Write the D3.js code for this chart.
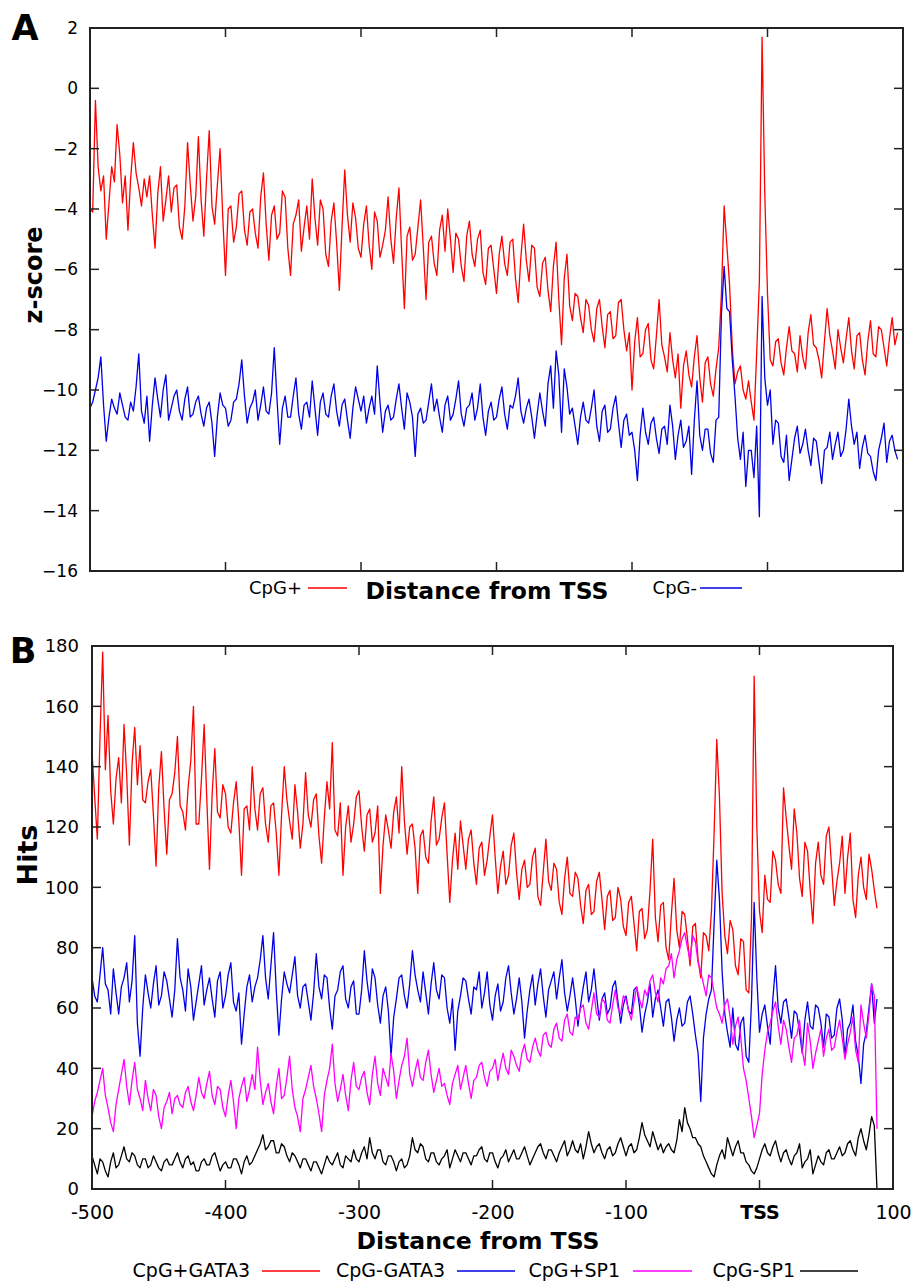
<!DOCTYPE html>
<html>
<head>
<meta charset="utf-8">
<script src="https://cdn.jsdelivr.net/npm/d3@7/dist/d3.min.js"></script>
<style>
html,body{margin:0;padding:0;background:#fff;}
svg{display:block;}
</style>
</head>
<body>
<svg id="chart" width="917" height="1284"></svg>
<script>
// ---------- DATA ----------
const startBp = -500;   // first position (bp from TSS)
const stepBp = 2;       // spacing between successive values

// Panel A : z-score
const zTicks = [2, 0, -2, -4, -6, -8, -10, -12, -14, -16];
const zCpgPlus = [
-4.0,-4.1,-0.4,-2.6,-3.4,-2.9,-5.0,-3.8,-2.6,-3.1,-1.2,-2.2,-3.8,-2.9,-4.7,-3.0,-1.8,-2.8,-3.3,-3.9,
-3.0,-3.6,-2.9,-4.2,-5.3,-3.5,-2.6,-4.4,-3.7,-2.9,-4.1,-3.3,-3.2,-4.6,-5.0,-3.9,-1.8,-3.2,-4.4,-3.6,
-1.6,-3.7,-4.9,-3.0,-1.4,-3.9,-4.5,-3.2,-2.0,-4.3,-6.2,-4.0,-3.9,-5.1,-4.6,-3.5,-3.4,-4.7,-5.2,-4.1,
-4.0,-4.8,-5.3,-3.6,-2.8,-4.5,-5.7,-4.2,-3.9,-5.0,-4.8,-3.4,-3.6,-5.3,-6.2,-4.5,-4.2,-3.7,-5.4,-4.6,
-3.9,-5.0,-3.0,-4.3,-5.2,-3.7,-4.0,-5.5,-5.9,-4.4,-3.8,-5.1,-6.7,-4.6,-2.7,-4.2,-5.1,-3.8,-4.3,-5.3,
-5.6,-4.5,-3.9,-5.2,-6.0,-4.1,-4.4,-5.6,-5.2,-4.7,-3.6,-5.0,-5.8,-4.3,-3.3,-5.4,-7.3,-4.9,-4.6,-5.7,
-5.5,-4.6,-3.7,-5.3,-7.0,-5.1,-4.9,-5.8,-6.2,-4.7,-4.2,-5.4,-4.0,-5.0,-6.1,-4.8,-5.0,-5.9,-6.4,-4.9,
-4.4,-5.5,-5.9,-5.0,-4.7,-6.1,-6.5,-5.3,-5.2,-6.0,-6.8,-5.5,-4.9,-5.8,-6.2,-5.1,-5.0,-6.3,-7.1,-5.6,
-4.5,-5.7,-6.4,-5.2,-5.3,-6.6,-6.9,-5.8,-5.6,-6.7,-7.4,-5.9,-5.1,-7.0,-8.5,-6.3,-5.5,-7.2,-7.7,-6.8,
-6.9,-7.6,-8.1,-7.0,-7.2,-8.0,-8.4,-7.3,-7.0,-7.9,-8.6,-7.5,-7.4,-8.3,-8.2,-7.1,-7.0,-8.0,-8.7,-8.1,
-10.0,-8.4,-7.6,-8.9,-8.8,-8.0,-7.8,-9.0,-9.3,-8.2,-7.0,-8.5,-8.9,-9.4,-8.1,-9.0,-9.6,-8.8,-10.6,-9.2,
-8.7,-9.5,-9.9,-8.9,-8.2,-9.6,-10.4,-9.1,-8.9,-9.8,-10.2,-9.3,-8.6,-6.8,-3.9,-5.2,-6.5,-8.6,-9.8,-9.4,
-9.2,-10.0,-10.3,-9.7,-10.4,-11.0,-8.8,-6.4,1.7,-3.5,-6.8,-9.0,-9.2,-8.4,-8.3,-9.1,-9.5,-8.6,-7.9,-8.7,
-8.8,-9.4,-8.2,-8.9,-9.3,-8.1,-7.5,-8.5,-8.6,-9.0,-9.6,-8.4,-7.3,-8.2,-8.7,-9.3,-8.0,-8.6,-9.1,-8.3,
-7.6,-8.7,-9.3,-8.2,-8.1,-9.0,-9.5,-8.4,-7.7,-8.8,-8.9,-7.9,-8.0,-8.6,-9.2,-8.3,-7.6,-8.5,-8.1
];
const zCpgMinus = [
-10.6,-10.4,-10.0,-9.6,-8.9,-10.5,-11.7,-10.9,-10.3,-10.6,-10.8,-10.1,-10.5,-10.9,-11.0,-10.4,-10.7,-9.9,-8.8,-10.7,
-11.1,-10.2,-11.7,-10.5,-9.6,-10.3,-10.9,-10.0,-9.5,-11.0,-10.6,-10.2,-10.0,-10.7,-11.0,-10.3,-9.9,-10.9,-10.8,-10.4,
-10.2,-10.8,-11.2,-10.6,-10.4,-11.1,-12.2,-10.9,-10.1,-10.5,-10.6,-11.2,-11.0,-10.4,-10.3,-9.8,-9.0,-10.2,-11.1,-10.6,
-10.4,-10.0,-11.0,-10.5,-9.9,-10.7,-10.8,-10.1,-8.6,-10.3,-11.8,-10.6,-10.2,-10.9,-10.9,-10.2,-9.6,-10.8,-11.3,-10.5,
-10.4,-10.9,-9.7,-10.6,-11.5,-10.4,-10.1,-10.8,-10.9,-10.2,-9.8,-10.7,-11.2,-10.5,-10.3,-11.0,-11.6,-10.6,-9.9,-10.3,
-10.7,-10.2,-11.1,-10.6,-10.2,-10.8,-9.2,-10.4,-11.4,-10.7,-10.5,-11.0,-10.9,-10.3,-9.8,-10.6,-11.3,-10.1,-10.4,-10.9,
-12.2,-10.8,-10.6,-11.1,-11.0,-10.4,-9.8,-10.7,-10.3,-10.9,-11.4,-10.5,-10.2,-11.0,-10.8,-10.3,-9.7,-10.8,-11.2,-10.6,
-10.5,-10.1,-11.0,-10.6,-9.8,-10.9,-11.5,-10.7,-10.4,-11.0,-10.9,-10.3,-9.9,-10.8,-11.3,-10.5,-10.6,-10.2,-9.6,-10.7,
-11.1,-10.6,-10.3,-10.9,-11.6,-10.8,-10.1,-10.7,-11.2,-9.8,-9.2,-10.6,-8.7,-9.5,-11.4,-9.3,-9.9,-10.8,-10.6,-11.2,
-11.8,-10.9,-10.4,-11.0,-11.1,-10.6,-10.0,-11.2,-11.7,-10.7,-10.5,-11.4,-11.3,-10.6,-10.2,-11.1,-11.9,-11.0,-10.8,-11.5,
-11.4,-12.0,-13.0,-11.5,-10.6,-11.4,-11.8,-11.1,-10.9,-11.6,-12.1,-11.3,-11.2,-11.8,-10.5,-11.2,-12.3,-11.5,-11.0,-11.9,
-11.7,-11.2,-12.8,-11.0,-9.7,-11.5,-12.0,-11.3,-11.3,-12.1,-12.4,-11.0,-10.9,-7.5,-5.9,-7.3,-7.4,-9.0,-10.2,-11.6,
-12.3,-11.4,-13.2,-12.0,-12.0,-12.9,-11.2,-14.2,-6.9,-9.6,-10.5,-10.0,-11.8,-11.0,-11.1,-12.2,-12.4,-11.5,-13.0,-12.3,
-11.6,-11.2,-12.1,-11.8,-11.3,-12.0,-12.5,-11.6,-11.7,-12.4,-13.1,-12.0,-11.9,-11.4,-12.3,-11.8,-11.4,-12.2,-12.0,-11.3,
-10.3,-11.2,-11.8,-11.4,-12.6,-11.9,-11.5,-12.1,-12.2,-12.7,-13.0,-12.0,-11.6,-11.1,-12.4,-11.7,-11.5,-12.0,-12.3
];

// Panel B : hits
const hitTicks = [0, 20, 40, 60, 80, 100, 120, 140, 160, 180];
const xTickValues = [-500, -400, -300, -200, -100, 0, 100];
const xTickLabels = ["-500", "-400", "-300", "-200", "-100", "TSS", "100"];

const hitsCpgPlusGATA3 = [
145,130,116,150,178,139,157,132,121,136,143,128,154,137,114,141,153,134,147,129,
128,135,139,124,107,133,145,126,111,129,131,138,150,127,125,119,133,142,160,121,
121,136,154,129,106,131,146,125,123,134,131,120,118,128,135,122,104,126,127,119,
140,126,119,131,133,121,115,127,128,118,104,124,140,129,122,116,134,125,113,121,
138,124,120,129,131,117,108,123,135,126,148,119,117,128,104,120,127,115,121,130,
132,120,112,124,126,115,118,127,98,114,124,119,113,125,130,118,140,122,111,120,
121,113,98,117,119,110,108,122,130,114,116,123,128,111,95,109,118,106,122,114,
106,116,119,108,101,113,115,104,109,117,124,110,98,107,112,101,104,114,118,105,
96,106,109,100,101,110,113,97,94,105,116,102,99,108,106,95,91,103,110,98,
97,105,103,94,88,99,101,91,92,102,105,96,86,97,99,89,90,100,96,87,
84,95,97,88,79,92,93,83,86,99,116,90,82,94,95,80,76,91,103,86,
80,92,91,83,74,87,88,76,70,85,84,79,92,118,149,130,98,84,78,89,
86,74,71,83,82,66,65,90,170,120,92,85,104,96,95,112,109,101,98,133,
123,114,106,126,118,103,97,115,112,99,88,108,115,104,101,117,120,107,94,102,
108,117,98,110,118,96,90,104,110,100,96,111,106,99,93
];
const hitsCpgMinusGATA3 = [
70,64,62,71,80,68,66,58,73,65,58,67,70,75,62,69,84,55,44,60,
71,65,60,68,74,61,64,72,69,63,57,66,83,70,66,59,73,67,56,62,
68,74,61,66,70,63,57,69,72,60,64,71,75,62,59,65,48,58,67,71,
62,67,70,76,84,70,63,74,85,66,51,63,72,68,65,71,77,64,60,67,
68,62,56,65,78,67,63,71,70,60,53,64,66,72,74,63,60,67,69,58,
58,66,79,69,62,73,70,61,55,64,67,59,44,57,63,70,71,64,60,68,
79,71,66,62,72,65,58,68,75,66,63,71,70,60,55,63,46,59,64,70,
69,63,58,67,66,72,60,65,72,61,56,64,68,59,62,70,74,65,58,63,
70,62,50,59,66,71,61,68,73,64,57,66,69,72,63,70,76,65,59,64,
70,63,54,61,67,72,62,66,73,64,56,63,65,58,60,67,69,62,55,61,
64,59,58,66,67,61,52,58,62,68,57,63,66,60,54,62,63,57,49,56,
60,54,55,62,64,58,51,45,29,50,58,63,66,88,109,96,72,58,52,47,
60,48,46,55,57,44,42,62,95,70,52,58,61,54,48,63,74,60,55,62,
63,57,50,59,58,52,45,56,62,54,53,61,60,55,47,58,57,50,51,60,
63,56,44,53,55,61,49,44,35,48,52,60,68,55,63
];
const hitsCpgPlusSP1 = [
24,29,32,36,40,31,27,22,19,28,33,38,43,34,28,36,42,33,30,26,
36,30,26,33,31,24,20,27,29,32,25,30,31,28,27,32,34,29,26,31,
37,32,30,35,39,31,28,34,33,27,24,31,36,29,20,30,34,37,29,33,
38,33,47,36,28,32,35,29,25,34,40,30,31,37,44,33,27,24,19,30,
33,37,41,34,30,25,19,31,36,40,48,35,29,33,38,31,26,36,42,34,
33,37,39,32,28,38,44,35,31,40,37,34,45,39,30,36,41,44,50,38,
34,39,43,37,36,42,46,38,32,36,40,34,35,31,28,35,38,41,33,37,
41,35,30,36,37,41,42,37,34,39,40,43,36,41,45,40,38,46,44,41,
39,45,48,43,42,47,50,46,44,51,52,48,47,53,55,50,49,56,58,52,
51,57,56,60,61,55,53,59,65,58,57,63,62,56,55,61,66,60,58,64,
63,59,56,62,67,63,60,66,64,69,71,65,62,70,68,73,74,78,70,76,
79,83,85,80,76,84,82,75,72,68,64,71,70,65,60,58,55,61,63,57,
48,54,57,50,40,36,30,24,17,21,25,38,46,52,55,59,62,54,48,56,
53,47,42,50,51,56,46,41,55,49,40,45,49,53,44,50,53,46,47,52,
56,50,43,48,52,57,46,42,61,55,50,58,68,64,20
];
const hitsCpgMinusSP1 = [
11,8,5,10,9,6,4,9,12,7,8,11,14,10,9,12,11,8,7,10,
10,7,8,11,9,7,6,9,10,8,8,10,12,9,7,10,11,8,9,6,
6,9,10,8,8,11,12,9,6,8,9,7,7,10,10,8,5,9,11,8,
9,11,13,15,18,13,14,16,16,12,12,15,14,11,9,12,11,9,7,10,
10,8,6,9,9,7,5,8,11,9,8,10,12,8,7,11,10,9,13,10,
9,12,14,10,17,12,10,13,13,9,8,11,11,9,6,9,10,7,8,11,
17,13,12,15,14,10,9,12,12,9,8,10,11,13,7,10,13,11,9,12,
12,10,8,11,11,13,14,10,9,12,12,9,7,10,11,13,9,11,13,10,
10,12,14,11,8,10,12,14,15,12,10,13,13,11,9,12,14,16,11,13,
16,13,12,15,10,14,19,15,12,14,15,12,10,13,14,11,12,15,17,14,
11,14,15,12,13,17,22,18,16,14,19,16,13,15,12,14,15,13,12,16,
23,19,27,22,20,17,17,15,14,11,9,7,5,4,8,11,13,10,17,14,
11,14,16,12,12,9,8,6,5,7,10,13,15,12,11,14,16,12,9,12,
13,10,8,11,12,15,7,9,10,13,5,8,11,9,8,12,13,10,10,12,
14,11,12,15,16,13,11,17,20,16,13,18,24,21,0
];

const legendA = [
  {label: "CpG+", color: "#ff0000"},
  {label: "CpG-", color: "#0000e6"}
];
const legendB = [
  {label: "CpG+GATA3", color: "#ff0000"},
  {label: "CpG-GATA3", color: "#0000e6"},
  {label: "CpG+SP1", color: "#ff00ff"},
  {label: "CpG-SP1", color: "#000000"}
];

// ---------- DRAW ----------
const svg = d3.select("#chart");
const FONT = "'DejaVu Sans', Verdana, sans-serif";
const LW = 1.3;

function toPoints(arr) {
  return arr.map((v, i) => ({x: startBp + i * stepBp, y: v}));
}

function frame(g, x, y, xTicks, yTicks, tickLen) {
  const [x0, x1] = x.range();
  const [y0, y1] = y.range();
  xTicks.forEach(t => {
    const px = x(t);
    g.append("line").attr("x1", px).attr("x2", px).attr("y1", y0).attr("y2", y0 - tickLen)
      .attr("stroke", "#222").attr("stroke-width", 1.5);
    g.append("line").attr("x1", px).attr("x2", px).attr("y1", y1).attr("y2", y1 + tickLen)
      .attr("stroke", "#222").attr("stroke-width", 1.5);
  });
  yTicks.forEach(t => {
    const py = y(t);
    g.append("line").attr("x1", x0).attr("x2", x0 + tickLen).attr("y1", py).attr("y2", py)
      .attr("stroke", "#222").attr("stroke-width", 1.5);
    g.append("line").attr("x1", x1).attr("x2", x1 - tickLen).attr("y1", py).attr("y2", py)
      .attr("stroke", "#222").attr("stroke-width", 1.5);
  });
}

function drawBox(g, x, y) {
  const [x0, x1] = x.range();
  const [y0, y1] = y.range();
  g.append("rect").attr("x", x0).attr("y", y1).attr("width", x1 - x0).attr("height", y0 - y1)
    .attr("fill", "none").attr("stroke", "#222").attr("stroke-width", 2);
}

// ===== Panel A =====
const xA = d3.scaleLinear().domain([-500, 100]).range([90, 903]);
const yA = d3.scaleLinear().domain([-16, 2]).range([571, 28]);
const gA = svg.append("g");

const lineA = d3.line().x(d => xA(d.x)).y(d => yA(d.y));
gA.append("path").datum(toPoints(zCpgPlus)).attr("d", lineA)
  .attr("fill", "none").attr("stroke", legendA[0].color).attr("stroke-width", LW).attr("stroke-linejoin", "round");
gA.append("path").datum(toPoints(zCpgMinus)).attr("d", lineA)
  .attr("fill", "none").attr("stroke", legendA[1].color).attr("stroke-width", LW).attr("stroke-linejoin", "round");

frame(gA, xA, yA, xTickValues.slice(1, -1), zTicks.slice(1, -1), 9);
drawBox(gA, xA, yA);

const yAxisA = d3.axisLeft(yA).tickValues(zTicks).tickSize(0).tickPadding(12).tickFormat(d3.format("d"));
const axA = gA.append("g").attr("transform", `translate(${xA.range()[0]},0)`).call(yAxisA);
axA.select(".domain").remove();
axA.selectAll("text").attr("font-family", FONT).attr("font-size", 17).attr("fill", "#000");

gA.append("text").attr("x", 25).attr("y", 40).attr("text-anchor", "middle")
  .attr("font-family", FONT).attr("font-weight", "bold").attr("font-size", 35).text("A");

gA.append("text").attr("transform", "translate(42,275) rotate(-90)").attr("text-anchor", "middle")
  .attr("font-family", FONT).attr("font-weight", "bold").attr("font-size", 24).text("z-score");

gA.append("text").attr("x", 487).attr("y", 599).attr("text-anchor", "middle")
  .attr("font-family", FONT).attr("font-weight", "bold").attr("font-size", 23.5).text("Distance from TSS");

const legAPos = [{tx: 302, lx1: 308, lx2: 347}, {tx: 697, lx1: 700, lx2: 742}];
legendA.forEach((d, i) => {
  const p = legAPos[i];
  gA.append("text").attr("x", p.tx).attr("y", 594).attr("text-anchor", "end")
    .attr("font-family", FONT).attr("font-size", 18).text(d.label);
  gA.append("line").attr("x1", p.lx1).attr("x2", p.lx2).attr("y1", 588).attr("y2", 588)
    .attr("stroke", d.color).attr("stroke-width", 1.3);
});

// ===== Panel B =====
const xB = d3.scaleLinear().domain([-500, 100]).range([92, 893]);
const yB = d3.scaleLinear().domain([0, 180]).range([1189, 646]);
const gB = svg.append("g");
const lineB = d3.line().x(d => xB(d.x)).y(d => yB(d.y));

const seriesB = [hitsCpgPlusGATA3, hitsCpgMinusGATA3, hitsCpgPlusSP1, hitsCpgMinusSP1];
seriesB.forEach((s, i) => {
  gB.append("path").datum(toPoints(s)).attr("d", lineB)
    .attr("fill", "none").attr("stroke", legendB[i].color).attr("stroke-width", LW).attr("stroke-linejoin", "round");
});

frame(gB, xB, yB, xTickValues.slice(1, -1), hitTicks.slice(1, -1), 9);
drawBox(gB, xB, yB);

const yAxisB = d3.axisLeft(yB).tickValues(hitTicks).tickSize(0).tickPadding(13).tickFormat(d3.format("d"));
const axB = gB.append("g").attr("transform", `translate(${xB.range()[0]},0)`).call(yAxisB);
axB.select(".domain").remove();
axB.selectAll("text").attr("font-family", FONT).attr("font-size", 18).attr("fill", "#000");

const xAxisB = d3.axisBottom(xB).tickValues(xTickValues).tickSize(0).tickPadding(17)
  .tickFormat((d, i) => xTickLabels[i]);
const axBx = gB.append("g").attr("transform", `translate(0,${yB.range()[0]})`).call(xAxisB);
axBx.select(".domain").remove();
axBx.selectAll("text").attr("font-family", FONT).attr("font-size", 19).attr("fill", "#000")
  .attr("font-weight", d => d === 0 ? "bold" : "normal");

gB.append("text").attr("x", 23).attr("y", 663).attr("text-anchor", "middle")
  .attr("font-family", FONT).attr("font-weight", "bold").attr("font-size", 35).text("B");

gB.append("text").attr("transform", "translate(37,855) rotate(-90)").attr("text-anchor", "middle")
  .attr("font-family", FONT).attr("font-weight", "bold").attr("font-size", 27).text("Hits");

gB.append("text").attr("x", 478).attr("y", 1249).attr("text-anchor", "middle")
  .attr("font-family", FONT).attr("font-weight", "bold").attr("font-size", 23.5).text("Distance from TSS");

const legBPos = [
  {tx: 250, lx1: 262, lx2: 320},
  {tx: 445, lx1: 457, lx2: 515},
  {tx: 620, lx1: 633, lx2: 692},
  {tx: 795, lx1: 800, lx2: 858}
];
legendB.forEach((d, i) => {
  const p = legBPos[i];
  gB.append("text").attr("x", p.tx).attr("y", 1277).attr("text-anchor", "end")
    .attr("font-family", FONT).attr("font-size", 19).text(d.label);
  gB.append("line").attr("x1", p.lx1).attr("x2", p.lx2).attr("y1", 1271).attr("y2", 1271)
    .attr("stroke", d.color).attr("stroke-width", 1.3);
});
</script>
</body>
</html>
